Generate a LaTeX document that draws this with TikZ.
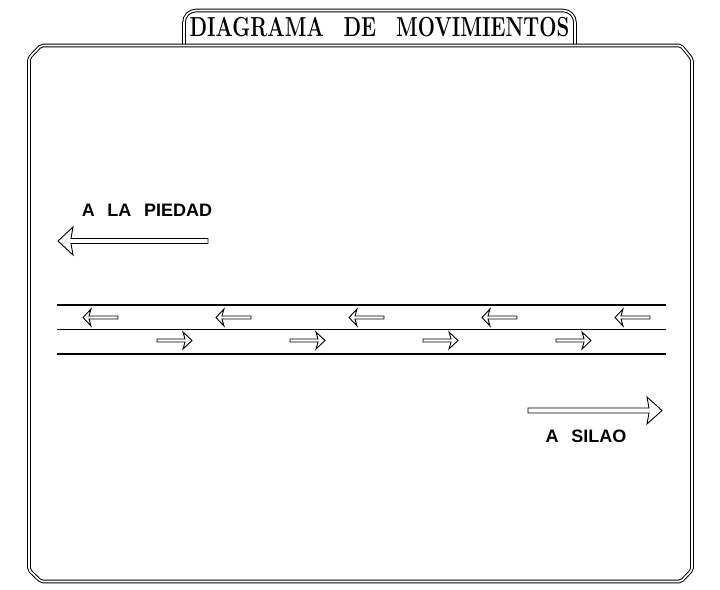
\documentclass[tikz,border=0pt]{standalone}
\usepackage{fontspec}
\newfontfamily\cadsans{Liberation Sans}
\usetikzlibrary{positioning}

\begin{document}
\begin{tikzpicture}[x=1pt, y=-1pt,
	marco/.style={draw, double, double distance=1.6pt, line width=1pt},
	carril/.style={draw, line width=1.1pt},
	flechaline/.style={draw, line width=0.9pt, line join=miter},
	rotulo/.style={font=\cadsans\bfseries\fontsize{18}{20}\selectfont, inner sep=0pt},
	pics/flecha/.style n args={4}{code={
		\draw[flechaline] (0,-#4) -- (#1-#2+2,-#4) -- (#1-#2,-#3) -- (#1,0) -- (#1-#2,#3) -- (#1-#2+2,#4) -- (0,#4) -- cycle;
	}}]
	\useasboundingbox (0,0) rectangle (720,589);
	% pestana del titulo y marco
	\draw[marco, rounded corners=12pt] (184,45.5) -- (184,10.5) -- (575,10.5) -- (575,45.5);
	\draw[marco, rounded corners=2pt] (29,58) -- (29,570) -- (41,581.5) -- (681,581.5) -- (692,570) -- (692,59) -- (681,45.5) -- (41,45.5) -- cycle;
	\node[font=\bfseries\fontsize{27.5}{30}\selectfont, xscale=0.74, inner sep=0pt] (titulo) at (379.5,27.5) {DIAGRAMA\hspace{0.98em}DE\hspace{0.98em}MOVIMIENTOS};
	% vialidad
	\foreach \yy in {305,329.5,354}
		\draw[carril] (57,\yy) -- (666,\yy);
	\foreach \xx in {83,216,349,482,615}
		\pic[rotate=180] at (\xx+35,317.5) {flecha={35}{8}{8.5}{1.5}};
	\foreach \xx in {157,290,423,556}
		\pic at (\xx,340.5) {flecha={35}{9}{8.5}{1.5}};
	% sentidos
	\pic[rotate=180] at (208,241) {flecha={150}{15}{14}{2.5}};
	\pic at (528,410.5) {flecha={134}{15}{13.5}{2.5}};
	\node[rotulo] (piedad) at (147,210.5) {A\hspace{0.7em}LA\hspace{0.7em}PIEDAD};
	\node[rotulo] (silao) at (586,436.5) {A\hspace{0.7em}SILAO};
\end{tikzpicture}
\end{document}
